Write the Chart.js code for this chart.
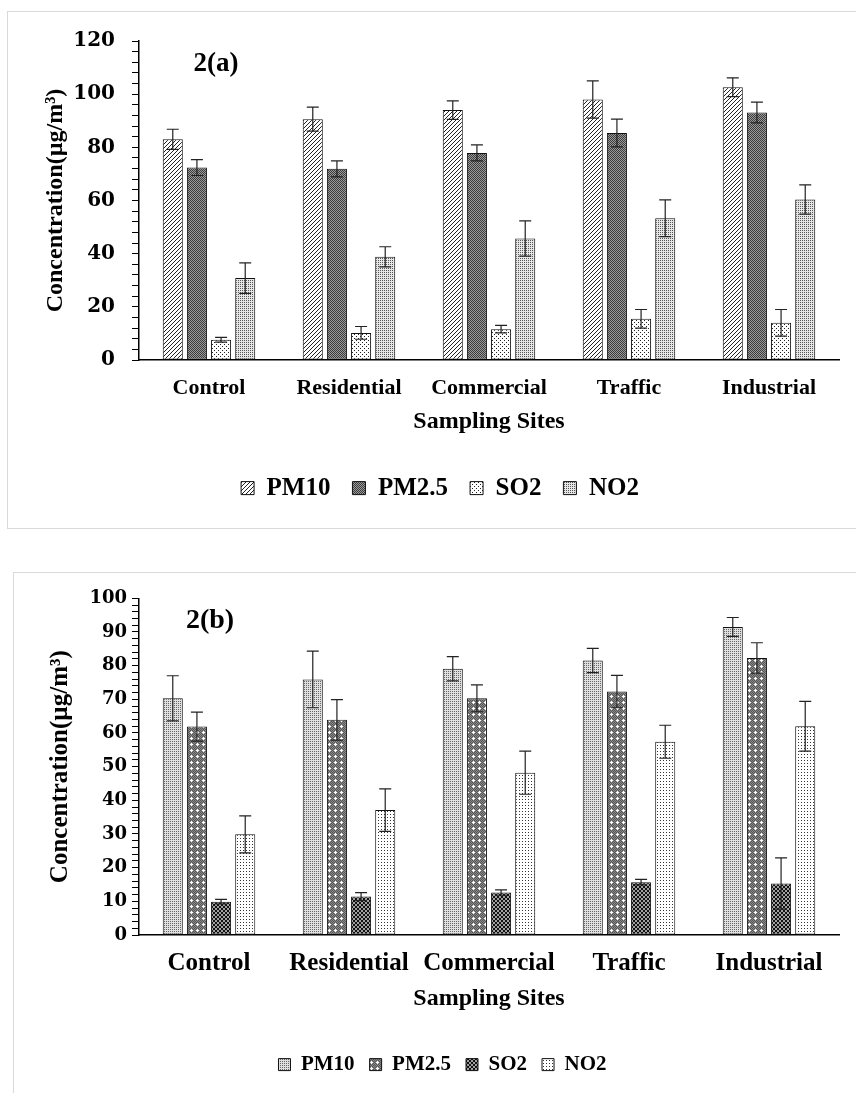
<!DOCTYPE html>
<html>
<head>
<meta charset="utf-8">
<script src="https://cdn.jsdelivr.net/npm/chart.js@4.4.1/dist/chart.umd.min.js"></script>
<style>
    html, body { margin: 0; padding: 0; background: #fff; overflow: hidden; }
    body { position: relative; width: 856px; height: 1093px; }
    .panel { position: absolute; border: 1px solid #d9d9d9; background: #fff; }
    #panelA { left: 7px; top: 11px; width: 870px; height: 516px; }
    #panelB { left: 13px; top: 572px; width: 870px; height: 540px; }
    canvas { display: block; }
</style>
</head>
<body>
<div class="panel" id="panelA"><canvas id="chartA" width="848" height="515"></canvas></div>
<div class="panel" id="panelB"><canvas id="chartB" width="842" height="520"></canvas></div>
<script>
const sites = ['Control', 'Residential', 'Commercial', 'Traffic', 'Industrial'];
const pollutants = ['PM10', 'PM2.5', 'SO2', 'NO2'];

// 2(a) means and error bars (µg/m³)
const pm10A = [83.0, 90.6, 94.0, 98.0, 102.6];
const pm10ErrA = [3.8, 4.5, 3.5, 7.0, 3.5];
const pm25A = [72.4, 71.9, 77.9, 85.4, 93.1];
const pm25ErrA = [3.0, 3.0, 3.0, 5.2, 3.9];
const so2A = [7.6, 10.2, 11.6, 15.5, 14.0];
const so2ErrA = [0.9, 2.4, 1.4, 3.5, 5.0];
const no2A = [30.8, 38.8, 45.7, 53.3, 60.4];
const no2ErrA = [5.7, 3.8, 6.6, 6.9, 5.5];

// 2(b)
const pm10B = [70.3, 75.9, 79.1, 81.5, 91.5];
const pm10ErrB = [6.7, 8.4, 3.6, 3.6, 2.8];
const pm25B = [61.9, 63.9, 70.3, 72.3, 82.3];
const pm25ErrB = [4.3, 6.0, 4.0, 4.8, 4.5];
const so2B = [9.9, 11.4, 12.6, 15.7, 15.3];
const so2ErrB = [0.7, 1.2, 0.8, 0.8, 7.6];
const no2B = [29.9, 37.1, 48.2, 57.4, 62.0];
const no2ErrB = [5.5, 6.3, 6.4, 4.9, 7.4];

Chart.defaults.font.family = "'Liberation Serif', 'Times New Roman', serif";
Chart.defaults.color = '#000';

function makePattern(size, bg, draw) {
    const c = document.createElement('canvas');
    c.width = c.height = size;
    const g = c.getContext('2d');
    g.fillStyle = bg;
    g.fillRect(0, 0, size, size);
    draw(g);
    return g.createPattern(c, 'repeat');
}

function px(g, color, pts) {
    g.fillStyle = color;
    pts.forEach(p => g.fillRect(p[0], p[1], 1, 1));
}

// fills for 2(a)
const fillsA = [
    makePattern(4, '#fff', g => {
        g.strokeStyle = '#222';
        g.lineWidth = 1;
        g.beginPath();
        g.moveTo(0, 4); g.lineTo(4, 0);
        g.moveTo(-1, 1); g.lineTo(1, -1);
        g.moveTo(3, 5); g.lineTo(5, 3);
        g.stroke();
    }),
    makePattern(2, '#9a9a9a', g => px(g, '#3c3c3c', [[0, 0], [1, 1]])),
    makePattern(4, '#fff', g => px(g, '#222', [[0, 0], [2, 2]])),
    makePattern(2, '#e6e6e6', g => px(g, '#555', [[0, 0]]))
];

// fills for 2(b)
const fillsB = [
    makePattern(2, '#e0e0e0', g => px(g, '#666', [[0, 0]])),
    makePattern(6, '#555', g => {
        px(g, '#8a8a8a', [[0, 0], [2, 0], [4, 0], [1, 1], [3, 1], [5, 1], [0, 2], [2, 2], [4, 2],
            [1, 3], [5, 3], [0, 4], [2, 4], [4, 4], [1, 5], [3, 5], [5, 5]]);
        px(g, '#fff', [[3, 3], [3, 2], [3, 4], [2, 3], [4, 3]]);
    }),
    makePattern(4, '#a0a0a0', g => {
        g.strokeStyle = '#111';
        g.lineWidth = 1;
        g.beginPath();
        g.moveTo(0, 4); g.lineTo(4, 0);
        g.moveTo(0, 0); g.lineTo(4, 4);
        g.stroke();
    }),
    makePattern(3, '#fff', g => px(g, '#333', [[1, 1]]))
];

// vertical error bars with caps on each bar
const errorBars = {
    id: 'errorBars',
    afterDatasetsDraw(chart) {
        const { ctx, scales: { y } } = chart;
        ctx.save();
        ctx.strokeStyle = '#222';
        ctx.lineWidth = 1.2;
        chart.data.datasets.forEach((ds, i) => {
            chart.getDatasetMeta(i).data.forEach((bar, j) => {
                const hi = y.getPixelForValue(ds.data[j] + ds.errors[j]);
                const lo = y.getPixelForValue(ds.data[j] - ds.errors[j]);
                ctx.beginPath();
                ctx.moveTo(bar.x, hi); ctx.lineTo(bar.x, lo);
                ctx.moveTo(bar.x - 6, hi); ctx.lineTo(bar.x + 6, hi);
                ctx.moveTo(bar.x - 6, lo); ctx.lineTo(bar.x + 6, lo);
                ctx.stroke();
            });
        });
        ctx.restore();
    }
};

// "2(a)" / "2(b)" tag inside the plot
const panelLabel = {
    id: 'panelLabel',
    afterDraw(chart, args, opts) {
        const { ctx, chartArea } = chart;
        ctx.save();
        ctx.font = `bold ${opts.size}px 'Liberation Serif', serif`;
        ctx.fillStyle = '#000';
        ctx.textAlign = 'center';
        ctx.textBaseline = 'middle';
        ctx.fillText(opts.text, chartArea.left + opts.dx, chartArea.top + opts.dy);
        ctx.restore();
    }
};

function makeChart(id, o) {
    return new Chart(document.getElementById(id), {
        type: 'bar',
        data: {
            labels: sites,
            datasets: pollutants.map((name, i) => ({
                label: name,
                data: o.values[i],
                errors: o.errors[i],
                backgroundColor: o.fills[i],
                borderColor: '#111',
                borderWidth: 1,
                borderSkipped: false,
                categoryPercentage: 0.69,
                barPercentage: 0.83
            }))
        },
        options: {
            responsive: false,
            animation: false,
            events: [],
            layout: { padding: o.padding },
            scales: {
                x: {
                    grid: { display: false, drawTicks: false },
                    border: { color: '#000', width: 1.5 },
                    ticks: {
                        font: { size: o.catSize, weight: 'bold' },
                        padding: o.catPad,
                        autoSkip: false,
                        maxRotation: 0
                    },
                    title: {
                        display: true,
                        text: 'Sampling Sites',
                        font: { size: o.xTitleSize, weight: 'bold' },
                        padding: { top: 0, bottom: o.xTitlePad }
                    },
                    afterFit: s => { s.height = o.xHeight; }
                },
                y: {
                    min: 0,
                    max: o.max,
                    grid: { drawOnChartArea: false, drawTicks: true, tickLength: 7, color: '#000' },
                    border: { color: '#000', width: 1.5 },
                    ticks: {
                        stepSize: o.minor,
                        autoSkip: false,
                        padding: o.tickPad,
                        font: { family: "'DejaVu Serif', serif", size: o.tickSize, weight: 'bold' },
                        callback: v => (v % o.major === 0 ? v : '')
                    },
                    title: {
                        display: true,
                        text: 'Concentration(µg/m³)',
                        font: { size: o.yTitleSize, weight: 'bold' },
                        padding: { top: 0, bottom: 0 }
                    },
                    afterFit: s => { s.width = o.yWidth; }
                }
            },
            plugins: {
                legend: {
                    position: 'bottom',
                    labels: {
                        font: { size: o.legendSize, weight: 'bold' },
                        boxWidth: o.box,
                        boxHeight: o.box,
                        padding: o.legendPad,
                        color: '#000'
                    }
                },
                tooltip: { enabled: false },
                panelLabel: { text: o.tag, size: o.tagSize, dx: o.tagX, dy: o.tagY }
            }
        },
        plugins: [errorBars, panelLabel]
    });
}

makeChart('chartA', {
    values: [pm10A, pm25A, so2A, no2A],
    errors: [pm10ErrA, pm25ErrA, so2ErrA, no2ErrA],
    fills: fillsA,
    max: 120, minor: 4, major: 20,
    padding: { left: 33, right: 17, top: 27, bottom: 16.4 },
    yWidth: 98, xHeight: 93.6,
    tickSize: 20, tickPad: 17,
    catSize: 22, catPad: 15,
    xTitleSize: 24, xTitlePad: 17.2,
    yTitleSize: 24,
    legendSize: 25, legendPad: 22, box: 13,
    tag: '2(a)', tagSize: 27, tagX: 77, tagY: 23
});

makeChart('chartB', {
    values: [pm10B, pm25B, so2B, no2B],
    errors: [pm10ErrB, pm25ErrB, so2ErrB, no2ErrB],
    fills: fillsB,
    max: 100, minor: 2, major: 10,
    padding: { left: 32, right: 17, top: 25.3, bottom: 7.9 },
    yWidth: 93, xHeight: 104.1,
    tickSize: 18, tickPad: 5,
    catSize: 25, catPad: 13.3,
    xTitleSize: 24, xTitlePad: 25.7,
    yTitleSize: 25,
    legendSize: 21, legendPad: 15, box: 12,
    tag: '2(b)', tagSize: 28, tagX: 71, tagY: 22.7
});
</script>
</body>
</html>
